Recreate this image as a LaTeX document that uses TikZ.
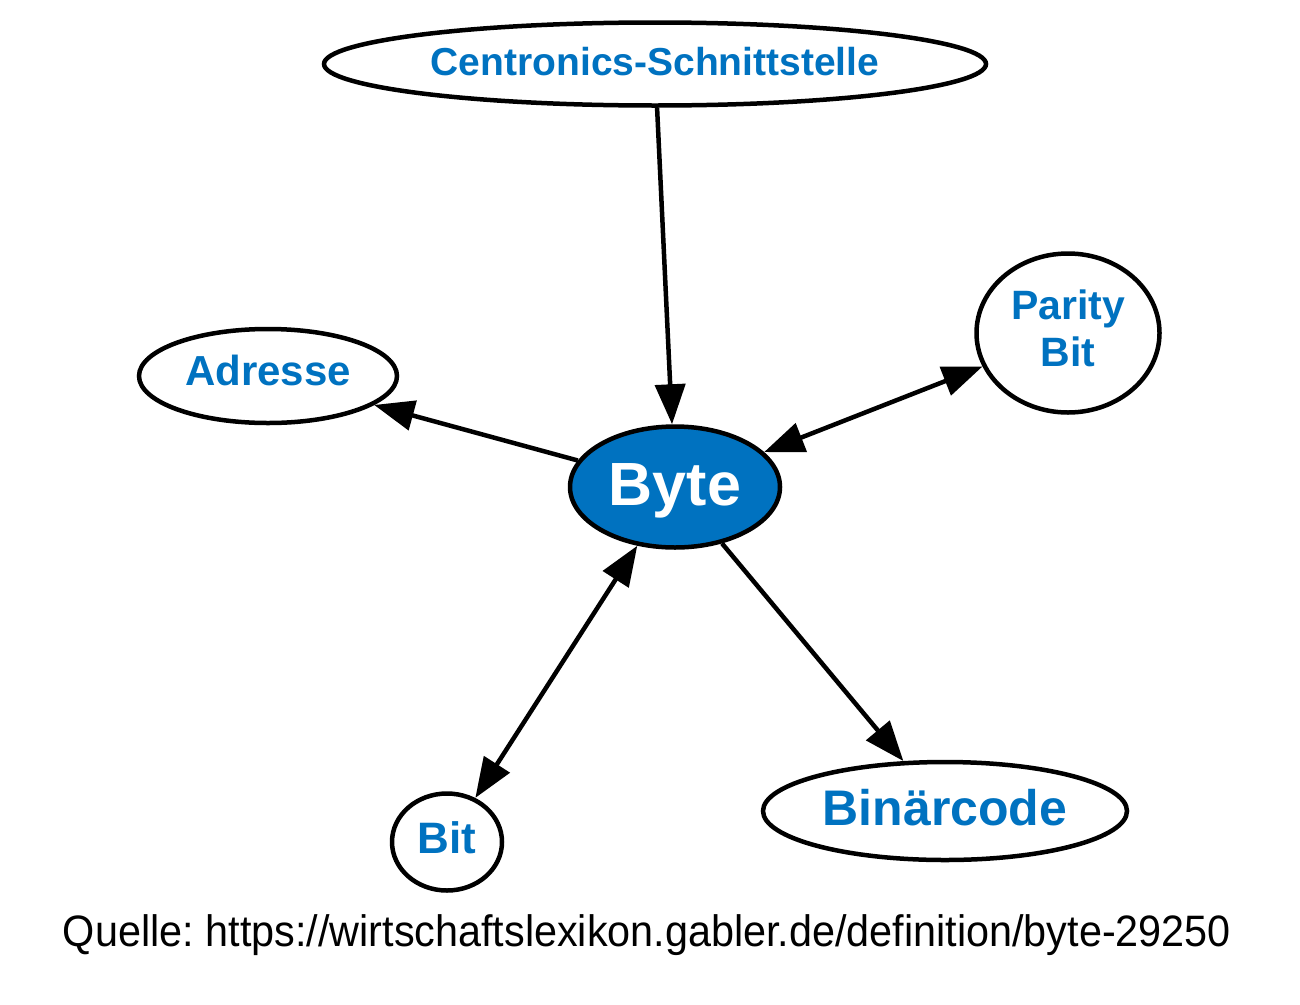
\documentclass[tikz,border=0pt]{standalone}
\usepackage{fontspec}
\setmainfont{Liberation Sans}
\usetikzlibrary{shapes.geometric,arrows.meta}
\definecolor{gablerblue}{RGB}{0,114,192}

\begin{document}
\begin{tikzpicture}[x=1pt,y=-1pt,
  term/.style={ellipse,draw,line width=4.5pt,inner sep=0pt,text=gablerblue},
  oneline/.style={text height=#1,text depth=0pt},
  link/.style={line width=4.5pt,-{Triangle[length=40pt,width=30pt]}},
  both/.style={line width=4.5pt,{Triangle[length=40pt,width=30pt]}-{Triangle[length=40pt,width=30pt]}}]
\fill[white] (0,0) rectangle (1300,1004);
\useasboundingbox (0,0) rectangle (1300,1004);

\node[term,oneline=22pt,minimum width=662pt,minimum height=83pt,font=\fontsize{39}{47}\selectfont\bfseries] (centronics) at (655,64) {Centronics-Schnittstelle};
\node[term,oneline=36pt,fill=gablerblue,text=white,minimum width=210pt,minimum height=121pt,font=\fontsize{61}{70}\selectfont\bfseries] (byte) at (675,487) {Byte};
\node[term,oneline=18pt,minimum width=258pt,minimum height=94pt,font=\fontsize{42}{50}\selectfont\bfseries] (adresse) at (268,376) {Adresse};
\node[term,align=center,minimum width=183pt,minimum height=159pt,font=\fontsize{41}{47}\selectfont\bfseries] (parity) at (1068,333) {Parity\\Bit\\[-37pt]};
\node[term,oneline=22pt,minimum width=110pt,minimum height=97pt,font=\fontsize{44}{52}\selectfont\bfseries] (bit) at (447,842) {Bit};
\node[term,oneline=28pt,minimum width=364pt,minimum height=98pt,font=\fontsize{50}{58}\selectfont\bfseries] (binaer) at (945,811) {Binärcode};

\node[font=\fontsize{44}{50}\selectfont] (quelle) at (647,935) {\scalebox{0.94}[1]{Quelle:\hspace{-4pt} https://wirtschaftslexikon.gabler.de/definition/byte-29250}};

\draw[link] (centronics) -- (byte);
\draw[link] (byte) -- (adresse);
\draw[both] (byte) -- (parity);
\draw[both] (byte) -- (bit);
\draw[link] (byte) -- (binaer);

\end{tikzpicture}
\end{document}
